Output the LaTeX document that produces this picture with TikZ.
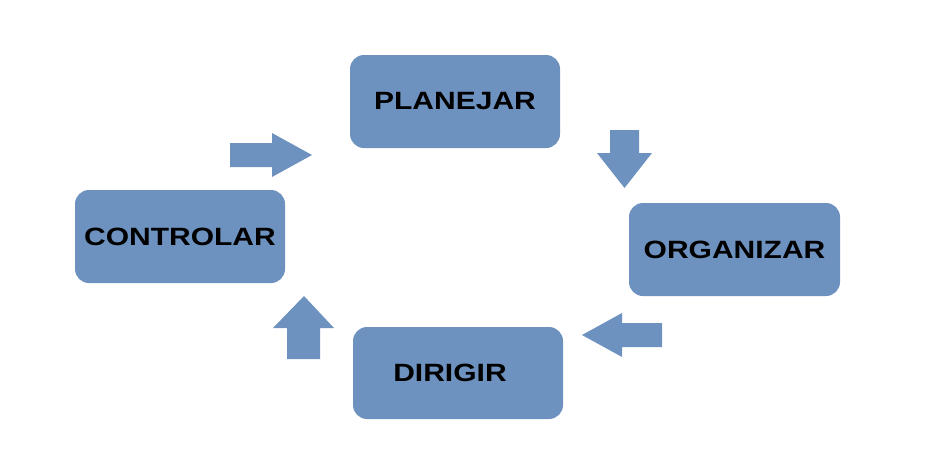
\documentclass[tikz,border=0pt]{standalone}
\usepackage{fontspec}
\newfontfamily\boxfont{Liberation Sans}[FakeStretch=1.2]
\usepackage{xcolor}
\usepackage{tikz}
\usetikzlibrary{positioning}
\definecolor{boxblue}{RGB}{110,146,192}
\tikzset{
  stage/.style={rectangle,rounded corners=14pt,fill=boxblue,minimum width=210pt,
    minimum height=93pt,font=\boxfont\bfseries\fontsize{25}{30}\selectfont,text=black},
  blockarrow/.style={fill=boxblue}
}
\begin{document}
\begin{tikzpicture}[x=1pt,y=-1pt]
  \useasboundingbox (0,0) rectangle (937,450);
  \node[stage] (plan) at (455,101.5) {PLANEJAR};
  \node[stage,minimum width=211pt] (org) at (734.5,249.5) {ORGANIZAR};
  \node[stage,minimum height=92pt] (dir) at (458,373) {\hspace*{-16pt}DIRIGIR};
  \node[stage] (ctrl) at (180,236.5) {CONTROLAR};
  % block arrows
  \fill[blockarrow] (610,130) -- (639,130) -- (639,153) -- (652,153) -- (624.5,188)
    -- (597,153) -- (610,153) -- cycle;
  \fill[blockarrow] (662,323) -- (622,323) -- (622,313) -- (582,335) -- (622,357)
    -- (622,347) -- (662,347) -- cycle;
  \fill[blockarrow] (287,359) -- (287,328) -- (273,328) -- (304,296) -- (334,328)
    -- (320,328) -- (320,359) -- cycle;
  \fill[blockarrow] (230,143) -- (272,143) -- (272,133) -- (312,155) -- (272,177)
    -- (272,167) -- (230,167) -- cycle;
\end{tikzpicture}
\end{document}
